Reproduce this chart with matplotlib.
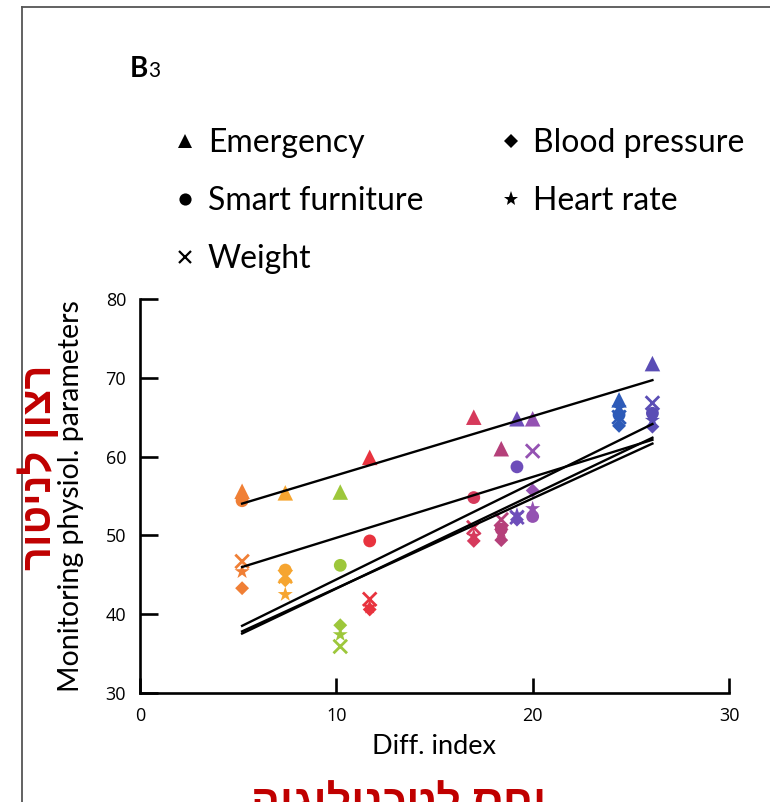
import numpy as np
import matplotlib.pyplot as plt
from matplotlib.lines import Line2D

# one column per device position along the differentiation index
diff_index = [5.2, 7.4, 10.2, 11.7, 17.0, 18.4, 19.2, 20.0, 24.4, 26.1]

emergency = [55.6, 55.4, 55.5, 59.9, 65.0, 61.0, 64.8, 64.8, 67.2, 71.8]
smart_furniture = [54.4, 45.6, 46.2, 49.3, 54.8, 50.8, 58.7, 52.4, 65.3, 65.5]
weight = [46.7, 44.8, 35.9, 41.9, 51.0, 52.0, 52.3, 60.7, 65.0, 66.8]
blood_pressure = [43.3, 44.3, 38.6, 40.6, 49.3, 49.4, 52.0, 55.7, 63.9, 63.8]
heart_rate = [45.4, 42.5, 37.4, 40.9, 49.9, 50.5, 52.6, 53.4, 66.2, 64.6]

point_colors = ["#F07F35", "#F6A530", "#9DC73B", "#E8333E", "#D63A5C",
                "#B5407A", "#6E4EBA", "#9452B2", "#2E5BB8", "#5A4DB5"]

x_ticks = [0, 10, 20, 30]
y_ticks = [30, 40, 50, 60, 70, 80]

# label, values, marker, marker area
series = [
    ("Emergency", emergency, "^", 125),
    ("Smart furniture", smart_furniture, "o", 85),
    ("Weight", weight, "x", 95),
    ("Blood pressure", blood_pressure, "D", 50),
    ("Heart rate", heart_rate, "*", 130),
]

W, H = 770, 802
fig = plt.figure(figsize=(W / 100, H / 100), dpi=100)
ax = fig.add_axes([140 / W, 1 - 693 / H, 589 / W, 394 / H])

x = np.array(diff_index)
handles = []
for label, vals, marker, size in series:
    vals = np.array(vals)
    if marker == "x":
        ax.scatter(x, vals, c=point_colors, marker=marker, s=size,
                   linewidths=2.0, zorder=2)
    else:
        ax.scatter(x, vals, c=point_colors, marker=marker, s=size,
                   linewidths=0, zorder=2)
    # least-squares trend line over the observed range
    coef = np.polyfit(x, vals, 1)
    xs = np.array([x.min(), x.max()])
    ax.plot(xs, np.polyval(coef, xs), color="black", lw=1.7, zorder=3)
    handles.append(Line2D([], [], ls="none", marker=marker, color="black",
                          markersize=np.sqrt(size) * 0.95,
                          markeredgewidth=1.6 if marker == "x" else 0))

ax.set_xlim(0, 30)
ax.set_ylim(30, 80)
ax.set_xticks(x_ticks)
ax.set_yticks(y_ticks)
for side in ["top", "right"]:
    ax.spines[side].set_visible(False)
for side in ["left", "bottom"]:
    ax.spines[side].set_linewidth(1.9)
ax.tick_params(axis="y", direction="in", length=13, width=1.9, pad=10,
               labelsize=13)
ax.tick_params(axis="x", direction="in", length=11, width=1.9, pad=10,
               labelsize=13)
for t in ax.get_xticklabels() + ax.get_yticklabels():
    t.set_family("Open Sans")

ax.set_xlabel("Diff. index", family="Lato", fontsize=19.5)
ax.xaxis.set_label_coords(0.5, -0.105)
ax.set_ylabel("Monitoring physiol. parameters", family="Lato", fontsize=20.5)
ax.yaxis.set_label_coords(-0.095, 0.5)

fig.legend(handles, [s[0] for s in series], loc="upper left",
           bbox_to_anchor=(171 / W, 1 - 128 / H), ncol=2, frameon=False,
           handlelength=0.9, handletextpad=0.25, columnspacing=2.3,
           labelspacing=0.88, borderpad=0, borderaxespad=0,
           prop={"family": "Lato", "size": 23})

fig.text(130 / W, 1 - 77 / H, "B", family="Lato", fontweight="bold",
         fontsize=20, va="baseline")
fig.text(148 / W, 1 - 77 / H, "3", family="Lato", fontsize=15, va="baseline")

# page frame
fig.add_artist(Line2D([22 / W, 22 / W], [0, 1 - 7 / H], transform=fig.transFigure,
                      color="#555555", lw=1.3, zorder=0))
fig.add_artist(Line2D([22 / W, 1], [1 - 7 / H, 1 - 7 / H], transform=fig.transFigure,
                      color="#555555", lw=1.3, zorder=0))

# Hebrew annotations (reversed for left-to-right glyph layout)
heb_family = ["Liberation Sans", "DejaVu Sans"]
fig.text(39 / W, 1 - 467 / H, "רצון לניטור"[::-1], rotation=90,
         color="#C00000", fontweight="bold", fontsize=30, family=heb_family,
         ha="center", va="center", zorder=5)
fig.text(399 / W, 1 - 816 / H, "יחס לטכנולוגיה"[::-1], color="#C00000",
         fontweight="bold", fontsize=31, family=heb_family,
         ha="center", va="baseline", zorder=5)

fig.savefig("out.png", dpi=100)
